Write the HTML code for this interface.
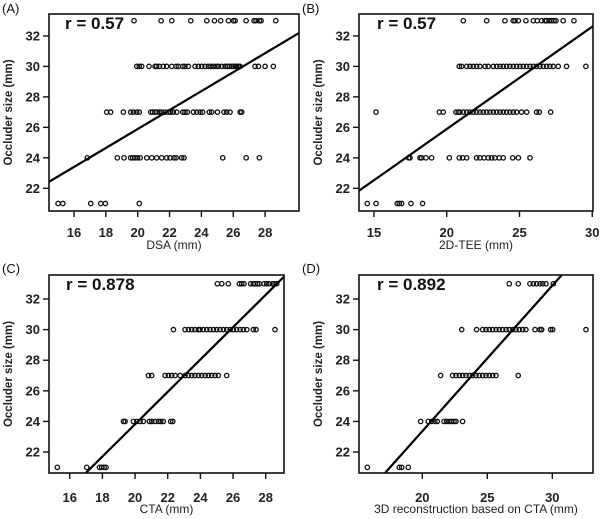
<!DOCTYPE html>
<html><head><meta charset="utf-8"><style>
html,body{margin:0;padding:0;background:#fff;}
svg{display:block;font-family:"Liberation Sans",Arial,sans-serif;}
</style></head><body>
<svg id="fig" width="600" height="519" viewBox="0 0 600 519" xmlns="http://www.w3.org/2000/svg"></svg>
<script>
// Panel A: DSA
const dsa33=[19.77,21.47,22.14,23.33,24.34,24.82,25.21,25.70,26.01,26.12,26.81,27.31,27.43,27.64,27.75,28.67];
const dsa30=[19.94,20.10,20.25,20.71,21.09,21.19,21.36,21.61,21.82,22.14,22.41,22.55,22.83,22.97,23.18,23.60,23.81,24.02,24.23,24.44,24.59,24.75,24.92,25.07,25.28,25.49,25.63,25.76,25.91,26.01,26.12,26.22,26.33,26.43,27.37,27.58,28.0,28.52];
const dsa27=[18.05,18.30,19.10,19.56,19.73,19.94,20.10,20.82,20.94,21.09,21.19,21.36,21.51,21.72,21.93,22.07,22.24,22.45,22.83,22.97,23.12,23.50,23.71,23.92,24.08,24.50,24.65,25.01,25.42,25.59,25.80,26.43,26.53];
const dsa24=[16.84,18.72,19.14,19.56,19.69,19.83,19.98,20.15,20.57,20.88,21.19,21.51,21.82,22.03,22.28,22.41,22.76,22.91,25.34,26.81,27.64];
const dsa21=[15.0,15.3,17.05,17.68,17.97,20.10];
// Panel B: 2D-TEE
const tee33=[21.14,22.74,24.0,24.57,24.69,24.92,25.44,25.95,26.22,26.52,26.75,26.86,27.05,27.21,27.37,27.50,28.0,28.74];
const tee30=[20.86,21.02,21.37,21.60,21.82,22.05,22.28,22.63,22.85,23.20,23.43,23.66,23.88,24.11,24.34,24.57,24.80,25.03,25.26,25.49,25.72,25.95,26.17,26.40,26.63,26.86,27.09,27.32,27.66,28.23,29.56];
const tee27=[15.14,19.49,19.76,20.63,20.79,20.91,21.14,21.37,21.60,21.82,22.05,22.28,22.51,22.74,22.97,23.20,23.43,23.66,23.88,24.11,24.34,24.57,24.80,25.14,25.49,26.17,26.36,27.14];
const tee24=[17.38,17.47,18.16,18.27,18.57,18.96,20.18,20.86,21.09,21.37,22.05,22.28,22.56,22.85,23.08,23.31,23.61,23.88,24.53,24.92,25.72];
const tee21=[14.54,15.14,16.60,16.74,16.90,17.54,18.34];
// Panel C: CTA
const cta33=[25.04,25.31,25.71,26.39,26.53,26.67,27.08,27.24,27.35,27.49,27.61,27.90,28.06,28.22,28.43,28.57,28.67];
const cta30=[22.35,23.06,23.27,23.47,23.67,23.88,23.98,24.18,24.39,24.59,24.80,25.0,25.20,25.41,25.61,25.82,26.02,26.22,26.43,26.63,26.84,27.24,27.41,28.57];
const cta27=[20.82,21.02,21.84,22.04,22.24,22.45,22.76,23.06,23.27,23.47,23.67,23.88,24.08,24.29,24.49,24.69,24.90,25.10,25.61];
const cta24=[19.29,19.39,19.90,20.10,20.31,20.51,20.88,21.02,21.22,21.43,21.57,21.73,22.18,22.31];
const cta21=[15.24,17.04,17.82,17.96,18.10,18.22];
// Panel D: 3D reconstruction
const rec33=[26.69,27.38,28.28,28.54,28.79,29.05,29.26,29.51,30.08];
const rec30=[23.03,24.18,24.64,24.90,25.15,25.41,25.67,25.92,26.18,26.44,26.69,26.95,27.21,27.46,27.72,27.97,28.67,29.05,29.18,29.87,30.03,32.59];
const rec27=[21.41,22.33,22.59,22.85,23.10,23.36,23.62,23.87,24.13,24.38,24.64,24.90,25.15,25.41,25.67,27.38];
const rec24=[19.87,20.46,20.72,20.97,21.15,21.67,21.87,22.08,22.26,22.44,22.59,23.10];
const rec21=[15.77,18.23,18.41,18.92];
const sizeLevels=[33,30,27,24,21];
// regression lines: [intercept, slope]
const fitA=[13.45,0.622], fitB=[12.45,0.672], fitC=[2.68,1.057], fitD=[4.32,0.952];
const rLabels=["r = 0.57","r = 0.57","r = 0.878","r = 0.892"];
const yTicks=[22,24,26,28,30,32];
const xTicksA=[16,18,20,22,24,26,28], xTicksB=[15,20,25,30], xTicksC=[16,18,20,22,24,26,28], xTicksD=[20,25,30];

const NS="http://www.w3.org/2000/svg";
const svg=document.getElementById('fig');
function mk(tag,attrs,parent){const e=document.createElementNS(NS,tag);for(const k in attrs)e.setAttribute(k,attrs[k]);(parent||svg).appendChild(e);return e;}

const panels=[
 {id:'a',tag:'(A)',ox:0,oy:0,box:[49,14,299,211],xd:[14.43,30.13],yd:[20.51,33.44],xt:xTicksA,title:'DSA (mm)',sets:[dsa33,dsa30,dsa27,dsa24,dsa21],fit:fitA,r:rLabels[0],rx:65,ylx:8,xtitleY:249,xtickY:237},
 {id:'b',tag:'(B)',ox:300,oy:0,box:[359,14,593,211],xd:[13.97,30.05],yd:[20.51,33.44],xt:xTicksB,title:'2D-TEE (mm)',sets:[tee33,tee30,tee27,tee24,tee21],fit:fitB,r:rLabels[1],rx:377,ylx:318,xtitleY:249,xtickY:237},
 {id:'c',tag:'(C)',ox:0,oy:260,box:[49,275,284,473],xd:[14.73,29.12],yd:[20.63,33.57],xt:xTicksC,title:'CTA (mm)',sets:[cta33,cta30,cta27,cta24,cta21],fit:fitC,r:rLabels[2],rx:66,ylx:8,xtitleY:513,xtickY:502},
 {id:'d',tag:'(D)',ox:300,oy:260,box:[359,275,593,473],xd:[15.13,33.13],yd:[20.63,33.57],xt:xTicksD,title:'3D reconstruction based on CTA (mm)',sets:[rec33,rec30,rec27,rec24,rec21],fit:fitD,r:rLabels[3],rx:377,ylx:318,xtitleY:513,xtickY:502}
];

panels.forEach(p=>{
 const [L,T,R,B]=p.box;
 const sx=v=>L+(v-p.xd[0])/(p.xd[1]-p.xd[0])*(R-L);
 const sy=v=>B-(v-p.yd[0])/(p.yd[1]-p.yd[0])*(B-T);
 const g=mk('g',{});
 
 
 const lab=mk('text',{x:p.ox+2,y:p.oy+13,'font-size':13,fill:'#111'},g);lab.textContent=p.tag;
 
 
 const clipId='clip'+p.id;
 const cp=mk('clipPath',{id:clipId},g);mk('rect',{x:L,y:T,width:R-L,height:B-T},cp);
 const pts=mk('g',{'clip-path':'url(#'+clipId+')'},g);
 
 
 p.sets.forEach((arr,i)=>{
  arr.forEach(v=>{
   const c=mk('circle',{cx:sx(v),cy:sy(sizeLevels[i]),r:2.2,fill:'none',stroke:'#111','stroke-width':1.3},pts);
   
   
  });
 });
 const f=p.fit, x0=p.xd[0], x1=p.xd[1];
 const ln=mk('line',{x1:sx(x0),y1:sy(f[0]+f[1]*x0),x2:sx(x1),y2:sy(f[0]+f[1]*x1),stroke:'#000','stroke-width':2.2,'clip-path':'url(#'+clipId+')'},g);
 
 
 const bx=mk('rect',{x:L,y:T,width:R-L,height:B-T,fill:'none',stroke:'#111','stroke-width':1.6},g);
 
 
 yTicks.forEach(t=>{
  const y=sy(t);
  mk('line',{x1:L-6,y1:y,x2:L,y2:y,stroke:'#111','stroke-width':1.4},g);
  const tx=mk('text',{x:L-9,y:y+4.5,'font-size':13,'font-weight':'bold','text-anchor':'end',fill:'#222'},g);
  tx.textContent=t;
  
  
 });
 p.xt.forEach(t=>{
  const x=sx(t);
  mk('line',{x1:x,y1:B,x2:x,y2:B+6,stroke:'#111','stroke-width':1.4},g);
  const tx=mk('text',{x:x,y:p.xtickY,'font-size':13,'font-weight':'bold','text-anchor':'middle',fill:'#222'},g);
  tx.textContent=t;
  
  
 });
 const xt=mk('text',{x:(L+R)/2,y:p.xtitleY,'font-size':12,'text-anchor':'middle',fill:'#222'},g);
 xt.textContent=p.title;
 
 
 const yc=(T+B)/2;
 const yt=mk('text',{x:p.ylx,y:yc,'font-size':11.5,'font-weight':'bold','text-anchor':'middle',fill:'#222',transform:'rotate(-90 '+p.ylx+' '+yc+') translate(0 4)'},g);
 yt.textContent='Occluder size (mm)';
 
 
 const rt=mk('text',{x:p.rx,y:T+15,'font-size':17,'font-weight':'bold',fill:'#111'},g);
 rt.textContent=p.r;
 
 
});
</script>
</body></html>
